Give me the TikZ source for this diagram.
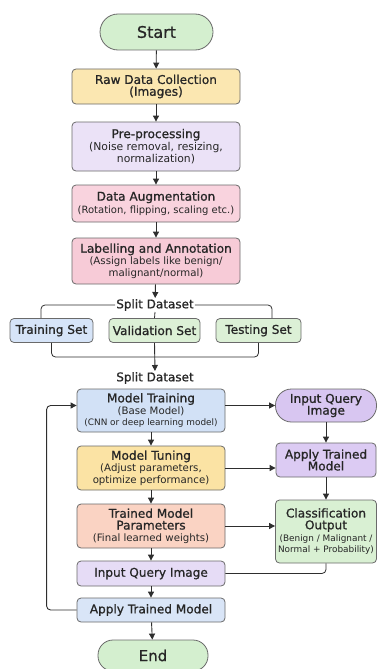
\documentclass[tikz,border=0pt]{standalone}
\usepackage{fontspec}
\setmainfont{DejaVu Sans}
\newfontfamily\titlefont{DejaVu Sans}[FakeBold=0.9]
\usetikzlibrary{arrows.meta,positioning,calc}
\definecolor{linec}{HTML}{2E2E2E}
\definecolor{borderc}{HTML}{6A6A6A}
\definecolor{cgreen}{HTML}{D4EFCF}
\definecolor{craw}{HTML}{FBE7B1}
\definecolor{cpre}{HTML}{EBE2F7}
\definecolor{caug}{HTML}{F9D3DE}
\definecolor{clab}{HTML}{F7CBD7}
\definecolor{cblue}{HTML}{D6E4F8}
\definecolor{cval}{HTML}{DCF0D6}
\definecolor{cmtrain}{HTML}{D2E1F6}
\definecolor{cmtune}{HTML}{FBE3A4}
\definecolor{cparam}{HTML}{FAD3C3}
\definecolor{cinq}{HTML}{E6DCF6}
\definecolor{capply}{HTML}{D9E5F7}
\definecolor{crinq}{HTML}{D8C6F1}
\definecolor{crapply}{HTML}{DCCBF3}
\definecolor{ccls}{HTML}{D9F0D3}
\tikzset{
  x=1pt, y=-1pt,
  box/.style={draw=borderc, line width=0.8pt, rounded corners=4pt, align=center,
    inner sep=1pt, text=black!85, font=\fontsize{10.2}{11.8}\selectfont},
  oval/.style={box, rounded corners=16pt},
  arr/.style={draw=linec, line width=0.9pt, -{Triangle[length=6pt,width=6pt]}},
  ln/.style={draw=linec, line width=0.8pt, rounded corners=4pt},
  lbl/.style={inner sep=1pt, text=black!85, font=\titlefont\fontsize{12}{14}\selectfont},
}
\newcommand{\ttl}[1]{{\titlefont\fontsize{12.1}{14}\selectfont #1}}
\newcommand{\sml}[1]{{\fontsize{8.9}{10.6}\selectfont #1}}
\begin{document}
\begin{tikzpicture}
\useasboundingbox (0,0) rectangle (377,669);
% left column
\node[oval, fill=cgreen, minimum width=113pt, minimum height=36pt, rounded corners=18pt] (start) at (156.5,32) {{\titlefont\fontsize{16}{18}\selectfont Start}};
\node[box, fill=craw, minimum width=168pt, minimum height=35pt] (raw) at (156,86.5) {\ttl{Raw Data Collection}\\\ttl{(Images)}};
\node[box, fill=cpre, minimum width=168pt, minimum height=49pt] (pre) at (156,146.5) {\ttl{Pre-processing}\\[1pt]{\fontsize{10.8}{12.6}\selectfont (Noise removal, resizing,}\\{\fontsize{10.8}{12.6}\selectfont normalization)}};
\node[box, fill=caug, minimum width=168pt, minimum height=37pt] (aug) at (156,203.5) {\ttl{Data Augmentation}\\[1pt]{\fontsize{10}{12}\selectfont (Rotation, flipping, scaling etc.)}};
\node[box, fill=clab, minimum width=168pt, minimum height=46pt] (lab) at (156,261) {\ttl{Labelling and Annotation}\\(Assign labels like benign/\\malignant/normal)};
\node[lbl] (split1) at (155,305) {Split Dataset};
\node[box, fill=cblue, minimum width=83pt, minimum height=24pt] (trainset) at (51.5,330.5) {\ttl{Training Set}};
\node[box, fill=cval, minimum width=91pt, minimum height=24pt] (valset) at (154.5,330.5) {\ttl{Validation Set}};
\node[box, fill=cval, minimum width=85pt, minimum height=24pt] (testset) at (258.5,330.5) {\ttl{Testing Set}};
\coordinate (brk) at (155,357);
\node[lbl] (split2) at (155,378) {Split Dataset};
\node[box, fill=cmtrain, minimum width=148pt, minimum height=43pt] (mtrain) at (151,410.5) {\ttl{Model Training}\\(Base Model)\\\sml{(CNN or deep learning model)}};
\node[box, fill=cmtune, minimum width=148pt, minimum height=44pt] (mtune) at (151,468) {\ttl{Model Tuning}\\(Adjust parameters,\\optimize performance)};
\node[box, fill=cparam, minimum width=148pt, minimum height=44pt] (tparam) at (151,526) {\ttl{Trained Model}\\\ttl{Parameters}\\(Final learned weights)};
\node[box, fill=cinq, minimum width=148pt, minimum height=25pt] (inq) at (151,573.5) {\ttl{Input Query Image}};
\node[box, fill=capply, minimum width=148pt, minimum height=24pt] (apply) at (151,610) {\ttl{Apply Trained Model}};
\node[oval, fill=cgreen, minimum width=110pt, minimum height=31pt, rounded corners=15pt] (end) at (153,655.5) {{\titlefont\fontsize{15}{17}\selectfont End}};
% right column
\node[oval, fill=crinq, minimum width=101pt, minimum height=33pt] (rinq) at (326,405.5) {\ttl{Input Query}\\\ttl{Image}};
\node[box, fill=crapply, minimum width=100pt, minimum height=34pt] (rapply) at (326,460) {\ttl{Apply Trained}\\\ttl{Model}};
\node[box, fill=ccls, minimum width=101pt, minimum height=63pt] (cls) at (326,531.5) {\ttl{Classification}\\\ttl{Output}\\\sml{(Benign / Malignant /}\\\sml{Normal + Probability)}};
% connectors
\draw[arr] (start) -- (raw);
\draw[arr] (raw) -- (pre);
\draw[arr] (pre) -- (aug);
\draw[arr] (aug) -- (lab);
\draw[arr] (lab) -- (split1);
\draw[ln] (split1.west) -| ([xshift=-10.5pt]trainset.north);
\draw[ln] (split1.east) -| ([xshift=13.5pt]testset.north);
\draw[ln] (split1.south) -- (valset.north);
\draw[ln] (trainset.south) |- (brk) -| (testset.south);
\draw[arr] (valset.south) -- (split2.north);
\draw[arr] (mtrain) -- (mtune);
\draw[arr] (mtune) -- (tparam);
\draw[arr] (tparam) -- (inq);
\draw[arr] (inq) -- (apply);
\draw[arr] (apply) -- (end);
\draw[arr] (mtrain.east |- rinq.west) -- (rinq.west);
\draw[arr] (mtune.east) -- (mtune.east -| rapply.west);
\draw[arr] (tparam.east) -- (tparam.east -| cls.west);
\draw[arr] (rinq) -- (rapply);
\draw[arr] (rapply) -- (cls);
\draw[ln] (cls.south) |- (inq.east);
\draw[arr, rounded corners=4pt] (apply.west) -- ++(-30,0) |- ([yshift=5pt]mtrain.west);
\end{tikzpicture}
\end{document}
